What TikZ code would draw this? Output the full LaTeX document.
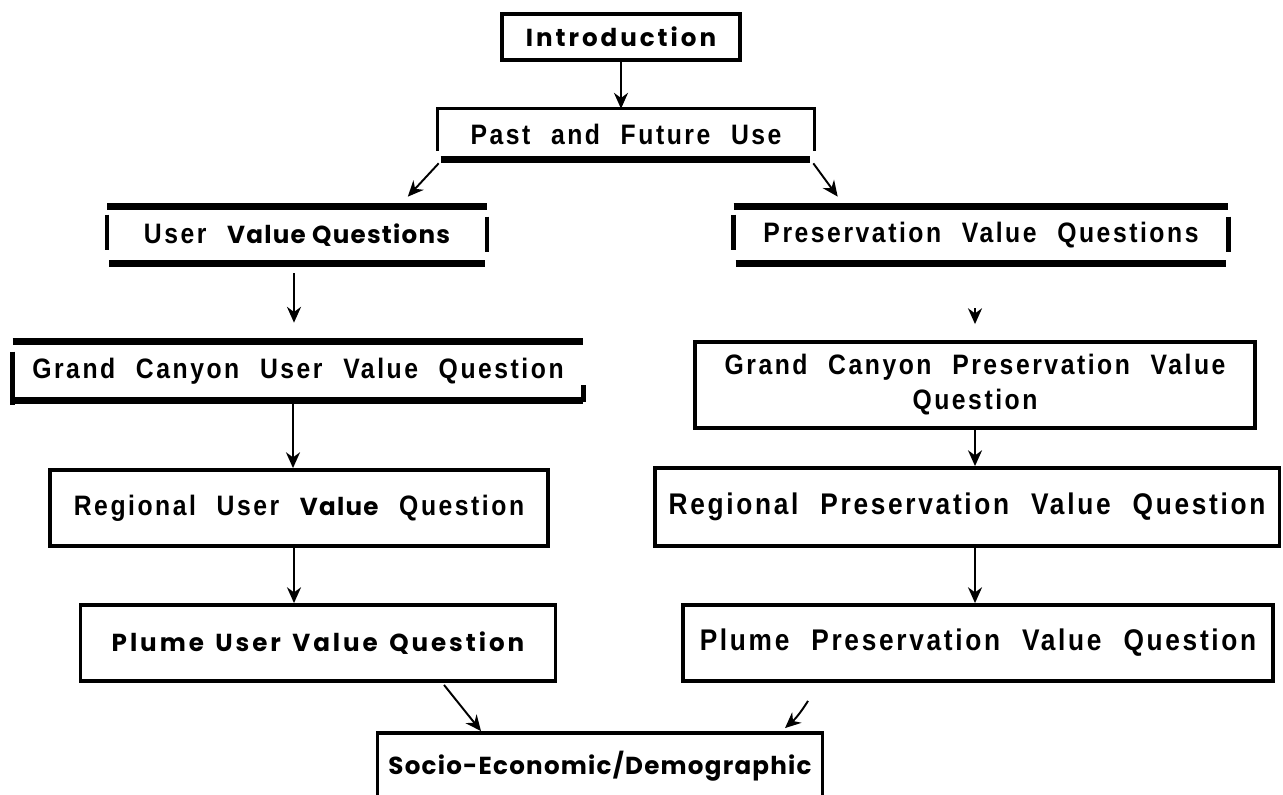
\documentclass[tikz,border=0pt]{standalone}
\usepackage{fontspec}
\setmainfont{Liberation Sans}
\newfontfamily\spacedfont{Liberation Sans}[LetterSpace=9,WordSpace=2.2,FakeStretch=0.88]
\newfontfamily\roundfont{Poppins}[LetterSpace=5]
\newfontfamily\wideround{Poppins}[LetterSpace=12,WordSpace=1.4]
\usetikzlibrary{arrows.meta}

\begin{document}
\begin{tikzpicture}[x=0.02cm, y=-0.02cm,
        box/.style={inner sep=0pt, align=center,
            font=\spacedfont\bfseries\fontsize{16}{19}\selectfont},
        framed/.style={box, draw, line width=2.2pt},
        rnd/.style={font=\roundfont\bfseries\fontsize{14}{17}\selectfont},
        big/.style={font=\spacedfont\bfseries\fontsize{17}{20}\selectfont},
        arr/.style={-{Stealth[length=9pt,width=8pt]}, line width=1.1pt},
        rim/.style={line width=3.6pt},
        bar/.style={line width=2.6pt}]
    \useasboundingbox (0,0) rectangle (1283,794);

    % boxes
    \node[framed, rnd, minimum width=4.76cm, minimum height=0.92cm] (intro) at (621,37) {\wideround\bfseries Introduction};
    \node[box, minimum width=7.52cm, minimum height=1cm] (past) at (626,134) {Past and Future Use};
    \node[box, minimum width=7.58cm, minimum height=1.12cm] (user) at (297,235) {User {\roundfont\fontsize{14}{17}\selectfont Value Questions}};
    \node[box, minimum width=9.88cm, minimum height=1.12cm] (pres) at (981,235) {Preservation Value Questions};
    \node[box, minimum width=11.4cm, minimum height=1.16cm] (gcu) at (298,371) {Grand Canyon User Value Question};
    \node[framed, minimum width=11.2cm, minimum height=1.72cm] (gcp) at (975,385) {Grand Canyon Preservation Value\\[1pt]Question};
    \node[framed, minimum width=9.96cm, minimum height=1.52cm] (regu) at (299,508) {Regional User {\roundfont\fontsize{14}{17}\selectfont Value} Question};
    \node[framed, big, minimum width=12.5cm, minimum height=1.56cm] (regp) at (967,507) {Regional Preservation Value Question};
    \node[framed, rnd, minimum width=9.5cm, minimum height=1.52cm] (plumeu) at (318,643) {\wideround\bfseries Plume User Value Question};
    \node[framed, big, minimum width=11.8cm, minimum height=1.52cm] (plumep) at (978,643) {Plume Preservation Value Question};
    \node[framed, rnd, minimum width=8.9cm, minimum height=1.32cm] (socio) at (600,766) {Socio-Economic/Demographic};

    % open frames
    \draw[line width=1.8pt] ([shift={(0,42)}]past.north west) -- (past.north west)
        -- (past.north east) -- ([shift={(0,42)}]past.north east);
    \draw[rim] ([shift={(3,0)}]past.south west) -- ([shift={(-4,0)}]past.south east);
    \foreach \b in {user, pres} {
        \draw[rim] (\b.north west) -- (\b.north east);
        \draw[rim] ([shift={(2,0)}]\b.south west) -- ([shift={(-2,0)}]\b.south east);
        \draw[bar] ([shift={(0,8)}]\b.north west) -- ([shift={(0,43)}]\b.north west);
        \draw[bar] ([shift={(0,10)}]\b.north east) -- ([shift={(0,45)}]\b.north east);
    }
    \draw[rim] (gcu.north west) -- (gcu.north east);
    \draw[rim] (gcu.south west) -- (gcu.south east);
    \draw[bar] ([shift={(0,10)}]gcu.north west) -- ([shift={(0,5)}]gcu.south west);
    \draw[bar] ([shift={(0,-15)}]gcu.south east) -- ([shift={(0,2)}]gcu.south east);

    % arrows
    \draw[arr] (intro) -- (past.north -| intro);
    \draw[arr] ([shift={(1,4)}]past.south west) -- ([shift={(-79,-10)}]user.north east);
    \draw[arr] ([shift={(-1,4)}]past.south east) -- ([shift={(104,-10)}]pres.north west);
    \draw[arr] ([shift={(-3,10)}]user.south) -- ([shift={(-4,-19)}]gcu.north);
    \draw[arr] ([shift={(-6,45)}]pres.south) -- ([shift={(0,-16)}]gcp.north);
    \draw[arr] ([shift={(-5,0)}]gcu.south) -- ([shift={(-5,0)}]gcu.south |- regu.north);
    \draw[arr] (gcp) -- (gcp.south |- regp.north);
    \draw[arr] ([shift={(-5,0)}]regu.south) -- ([shift={(-5,0)}]regu.south |- plumeu.north);
    \draw[arr] ([shift={(8,0)}]regp.south) -- ([shift={(8,0)}]regp.south |- plumep.north);
    \draw[arr] ([shift={(126,2)}]plumeu.south) -- ([shift={(-119,0)}]socio.north);
    \draw[arr] ([shift={(-170,18)}]plumep.south) to[bend left=8] ([shift={(185,-3)}]socio.north);
\end{tikzpicture}
\end{document}
